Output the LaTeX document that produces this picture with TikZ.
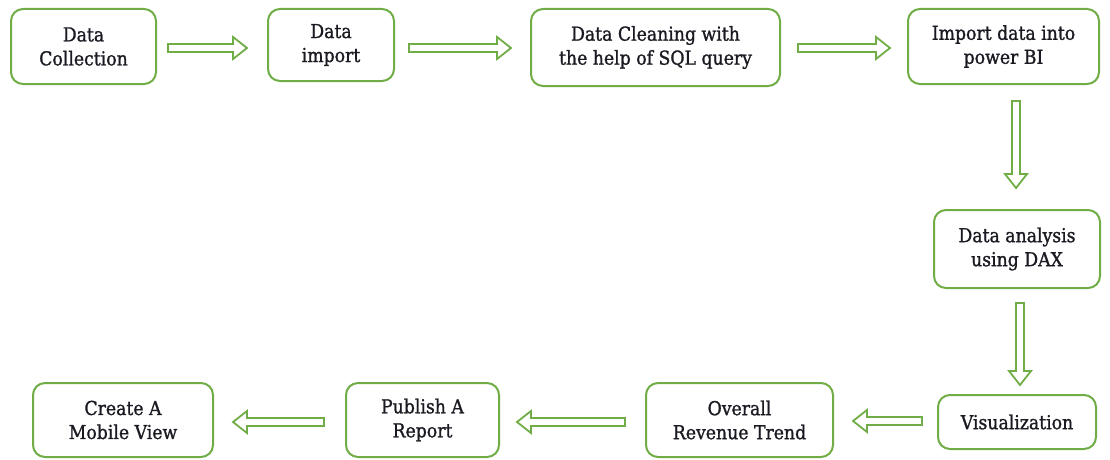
\documentclass[tikz,border=0pt]{standalone}
\usepackage{fontspec}
\setmainfont{DejaVu Serif Condensed}
\newfontfamily\boxfont{DejaVu Serif Condensed}[FakeBold=1.2]
\usetikzlibrary{calc}
\definecolor{grn}{HTML}{70AD47}
\definecolor{txt}{HTML}{1A1A22}
\tikzset{
  box/.style={draw=grn, line width=2pt, rounded corners=12pt, align=center, text=txt,
    font=\boxfont\fontsize{19.2}{24}\selectfont, inner sep=0pt},
  barrow/.style={draw=grn, line width=1.8pt, fill=white, line join=miter, to path={
    ($(\tikztostart)!4pt!90:(\tikztotarget)$)
    -- ($($(\tikztotarget)!14pt!(\tikztostart)$)!4pt!-90:(\tikztostart)$)
    -- ($($(\tikztotarget)!14pt!(\tikztostart)$)!11pt!-90:(\tikztostart)$)
    -- (\tikztotarget)
    -- ($($(\tikztotarget)!14pt!(\tikztostart)$)!11pt!90:(\tikztostart)$)
    -- ($($(\tikztotarget)!14pt!(\tikztostart)$)!4pt!90:(\tikztostart)$)
    -- ($(\tikztostart)!4pt!-90:(\tikztotarget)$) -- cycle}}
}
\begin{document}
\begin{tikzpicture}[x=1pt,y=-1pt]
\useasboundingbox (0,0) rectangle (1110,460);
\node[box, minimum width=145pt, minimum height=75pt] (n1) at (83.5,46.5) {Data\\Collection};
\node[box, minimum width=126pt, minimum height=72pt] (n2) at (331,45) {Data\\import};
\node[box, minimum width=249pt, minimum height=77pt] (n3) at (655.5,47.5) {Data Cleaning with\\the help of SQL query};
\node[box, minimum width=191pt, minimum height=75pt] (n4) at (1003.5,46.5) {Import data into\\power BI};
\node[box, minimum width=166pt, minimum height=78pt] (n5) at (1017,249) {Data analysis\\using DAX};
\node[box, minimum width=158pt, minimum height=54pt] (n6) at (1017,422) {Visualization};
\node[box, minimum width=187pt, minimum height=74pt] (n7) at (739.5,420) {Overall\\Revenue Trend};
\node[box, minimum width=153pt, minimum height=74pt] (n8) at (422.5,420) {Publish A\\Report};
\node[box, minimum width=180pt, minimum height=74pt] (n9) at (123,420) {Create A\\Mobile View};
\coordinate (a1s) at ($(n1.east)+(11,1.5)$);
\coordinate (a1e) at ($(n2.west)+(-20,3)$);
\coordinate (a2s) at ($(n2.east)+(14,3)$);
\coordinate (a2e) at ($(n3.west)+(-19,0.5)$);
\coordinate (a3s) at ($(n3.east)+(17,0.5)$);
\coordinate (a3e) at ($(n4.west)+(-17,1.5)$);
\coordinate (a4s) at ($(n4.south)+(12.5,16)$);
\coordinate (a4e) at ($(n4.south)+(12.5,103)$);
\coordinate (a5s) at ($(n5.south)+(3,14)$);
\coordinate (a5e) at ($(n5.south)+(3,96)$);
\coordinate (a6s) at ($(n6.west)+(-15,-1)$);
\coordinate (a6e) at ($(n7.east)+(19,1)$);
\coordinate (a7s) at ($(n8.east)+(125,2)$);
\coordinate (a7e) at ($(n8.east)+(17,2)$);
\coordinate (a8s) at ($(n8.west)+(-21,2)$);
\coordinate (a8e) at ($(n9.east)+(19,2)$);
\draw[barrow] (a1s) to (a1e);
\draw[barrow] (a2s) to (a2e);
\draw[barrow] (a3s) to (a3e);
\draw[barrow] (a4s) to (a4e);
\draw[barrow] (a5s) to (a5e);
\draw[barrow] (a6s) to (a6e);
\draw[barrow] (a7s) to (a7e);
\draw[barrow] (a8s) to (a8e);
\end{tikzpicture}
\end{document}
